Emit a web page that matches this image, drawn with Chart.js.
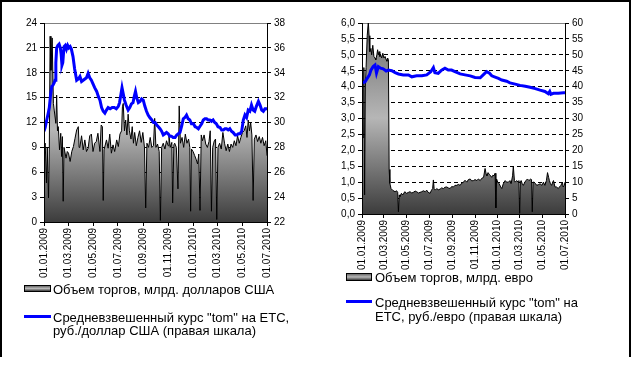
<!DOCTYPE html>
<html><head><meta charset="utf-8">
<script src="https://cdn.jsdelivr.net/npm/chart.js@4.4.1/dist/chart.umd.min.js"></script>
<style>
html,body{margin:0;padding:0;background:#fff;}
body{width:631px;height:372px;position:relative;overflow:hidden;font-family:'Liberation Sans',Arial,sans-serif;}
#frame{position:absolute;left:0;top:0;width:627px;height:355px;border:2px solid #000;border-bottom:none;}
canvas{position:absolute;}
.lg{position:absolute;font-size:13px;line-height:13px;color:#000;white-space:nowrap;}
.box{position:absolute;border:1px solid #000;background:linear-gradient(#6a6a6a,#b8b8b8 50%,#3c3c3c);}
.ln{position:absolute;height:3px;background:#0000ff;}
</style></head><body>
<div id="frame"></div>
<canvas id="c1" width="310" height="300" style="left:0;top:0"></canvas>
<canvas id="c2" width="310" height="300" style="left:310px;top:0"></canvas>

<div class="box" style="left:24px;top:285px;width:25px;height:5px"></div>
<div class="lg" style="left:53px;top:283px">Объем торгов, млрд. долларов США</div>
<div class="ln" style="left:24px;top:315px;width:27px"></div>
<div class="lg" style="left:53px;top:311px">Средневзвешенный курс "tom" на ETC,<br>руб./доллар США (правая шкала)</div>

<div class="box" style="left:346px;top:273px;width:24px;height:6px"></div>
<div class="lg" style="left:375px;top:271px">Объем торгов, млрд. евро</div>
<div class="ln" style="left:346px;top:300px;width:26px"></div>
<div class="lg" style="left:375px;top:296px;line-height:14px">Средневзвешенный курс "tom" на<br>ETC, руб./евро (правая шкала)</div>

<script>
// Tick labels (month starts) for both charts
const tickLabels = ['01.01.2009','01.03.2009','01.05.2009','01.07.2009','01.09.2009','01.11.2009','01.01.2010','01.03.2010','01.05.2010','01.07.2010'];

// USD: days since 01.01.2009 and daily volume, bn USD
const usdVolDay = [
 0,3,6,8,11,13,15,17,19,20,
 23,25,29,31,33,35,38,41,43,45,
 47,49,54,57,60,64,68,72,76,80,
 84,86,88,92,96,100,104,108,112,116,
 120,124,128,132,137,140,143,145,147,153,
 157,161,165,169,173,178,182,186,190,192,
 194,197,200,203,206,209,213,216,219,222,
 226,230,234,238,242,246,249,252,256,260,
 264,268,271,274,278,282,285,288,292,296,
 300,304,306,309,313,315,318,320,324,328,
 331,334,338,342,346,350,354,357,359,361,
 365,369,373,376,379,382,385,388,392,396,
 400,404,407,410,413,417,420,423,426,430,
 434,438,442,446,450,454,458,462,466,470,
 474,478,482,486,490,494,497,500,503,506,
 509,512,515,519,523,527,531,535,539,543,
 546];
const usdVol = [
 9.0,9.5,4.7,9.0,2.9,8.7,22.4,18.3,21.0,22.2,
 14.3,13.5,11.9,15.3,11.0,11.5,8.7,10.7,7.9,10.3,
 2.5,9.0,7.7,8.5,8.3,7.3,8.5,9.1,10.1,11.1,
 11.5,9.0,9.1,10.4,8.7,9.9,8.5,8.9,10.4,10.6,
 8.5,9.5,9.7,10.7,8.5,11.7,11.5,2.6,8.7,9.9,
 8.9,10.6,8.3,9.3,8.5,9.9,9.1,10.6,11.0,13.9,
 14.3,11.0,12.3,10.5,13.0,11.0,10.0,11.5,9.5,10.8,
 9.2,10.2,11.0,9.6,10.8,9.0,1.7,9.5,9.0,10.2,
 9.0,9.2,12.5,9.0,9.4,8.5,0.2,9.0,9.5,8.8,
 9.8,9.2,10.5,9.0,9.6,2.3,9.3,9.5,9.0,4.0,
 14.0,9.5,10.2,9.0,10.6,9.5,10.0,9.0,1.3,8.8,
 8.5,8.0,7.5,7.0,8.2,1.4,10.5,9.8,10.5,9.4,
 9.0,9.7,11.0,1.3,9.0,9.8,10.0,0.3,9.0,9.5,
 8.8,10.8,9.5,8.6,9.4,8.5,9.4,9.0,9.8,9.2,
 10.4,9.5,10.2,10.8,11.0,11.6,10.2,12.3,11.0,12.0,
 10.5,2.6,10.0,10.5,9.7,10.3,9.5,10.2,9.2,9.8,
 8.0];

// USD: weighted average "tom" rate, RUB per USD
const usdRateDay = [
 0,3,6,10,13,16,19,22,25,27,
 29,31,34,37,40,42,44,46,49,52,
 55,58,61,64,67,71,75,80,84,88,
 92,96,100,104,108,112,116,120,124,129,
 133,137,141,145,149,153,157,162,167,172,
 177,182,185,188,191,194,197,201,206,210,
 214,218,221,224,227,231,235,239,243,247,
 251,255,259,264,268,272,276,280,284,288,
 292,296,300,304,308,312,316,321,325,329,
 333,337,341,345,349,353,357,361,366,370,
 374,378,382,386,390,394,398,402,406,410,
 414,418,422,426,431,435,439,443,447,451,
 455,459,463,468,472,476,480,484,488,492,
 496,500,504,508,512,516,520,525,529,533,
 537,541,546];
const usdRate = [
 29.3,29.6,30.1,30.7,31.2,32.2,32.9,33.0,33.2,33.4,
 34.8,36.0,36.2,36.3,36.0,35.5,34.6,34.8,36.1,36.2,
 35.9,36.2,36.0,36.1,35.9,35.3,34.3,33.4,33.5,33.7,
 33.3,33.4,33.5,33.6,33.95,33.6,33.4,33.1,32.8,32.5,
 32.1,31.8,31.2,30.9,30.75,31.0,31.2,31.1,31.2,31.2,
 31.1,31.3,31.6,32.2,32.8,32.3,31.8,31.4,31.0,31.2,
 31.5,31.6,32.1,32.5,32.0,31.6,31.7,31.9,31.8,31.3,
 30.9,30.6,30.4,30.2,30.0,30.0,29.8,29.66,29.5,29.3,
 29.0,29.1,29.2,29.1,28.9,28.9,28.8,28.8,29.0,29.1,
 29.2,29.7,30.3,30.4,30.6,30.3,30.2,29.9,29.9,29.66,
 29.6,29.5,29.7,29.9,30.2,30.3,30.3,30.2,30.2,30.1,
 30.2,30.0,29.9,29.66,29.6,29.4,29.4,29.5,29.5,29.4,
 29.5,29.3,29.2,29.0,29.0,29.1,29.1,29.3,30.2,30.6,
 30.4,31.0,30.9,31.4,31.0,30.9,31.3,31.7,31.4,31.0,
 30.9,31.1,31.1];

// EUR: days since 01.01.2009 and daily volume, bn EUR
const eurVolDay = [
 0,3,5,7,9,11,14,17,19,21,
 24,26,29,32,35,37,40,42,44,46,
 48,50,53,56,59,62,65,67,69,71,
 73,75,78,82,86,89,93,96,98,100,
 102,106,110,115,120,125,129,134,138,143,
 147,152,156,161,165,170,174,178,183,187,
 190,192,194,197,201,205,210,214,219,223,
 228,232,237,241,246,250,255,259,264,268,
 273,277,282,286,291,295,300,304,309,313,
 318,322,327,331,334,336,339,342,346,349,
 352,355,358,360,362,365,369,373,376,380,
 385,389,394,398,401,405,407,410,412,416,
 420,422,424,426,428,431,434,438,441,445,
 449,454,456,458,460,463,467,470,474,479,
 484,488,492,496,499,502,504,507,510,513,
 515,519,523,528,531,535,539,541,544,546];
const eurVol = [
 3.6,2.4,4.6,0.6,4.0,4.6,5.6,6.04,5.6,5.1,
 5.2,5.0,5.3,4.95,4.9,4.84,5.0,5.16,5.0,5.1,
 4.95,5.0,4.9,5.05,4.9,4.95,4.85,4.8,4.9,4.85,
 1.4,0.96,0.8,0.75,0.72,0.7,0.73,0.68,0.07,0.6,
 0.55,0.65,0.6,0.7,0.65,0.68,0.7,0.66,0.68,0.72,
 0.7,0.66,0.68,0.7,0.73,0.7,0.75,0.68,0.65,0.75,
 0.8,1.07,0.8,0.75,0.8,0.76,0.78,0.82,0.8,0.84,
 0.85,0.82,0.8,0.86,0.85,0.9,0.9,0.93,0.9,0.97,
 1.0,1.06,1.0,1.08,1.1,1.04,1.05,1.08,1.05,1.1,
 1.05,1.12,1.15,1.43,1.25,1.2,1.3,1.25,1.2,1.15,
 1.22,1.2,1.28,0.19,1.1,1.0,0.95,0.85,0.8,0.95,
 1.05,1.0,1.0,1.05,0.95,1.2,1.5,1.05,1.0,1.05,
 1.0,1.05,0.02,1.0,1.05,0.95,0.9,1.0,1.05,1.1,
 1.05,1.1,1.08,0.07,1.0,1.0,0.95,0.9,0.92,0.95,
 0.9,1.0,0.9,1.05,1.3,1.15,1.05,0.95,0.9,1.0,
 1.05,0.85,0.85,0.8,0.85,0.9,1.0,0.85,0.9,1.0];

// EUR: weighted average "tom" rate, RUB per EUR
const eurRateDay = [
 0,8,14,20,24,30,35,39,44,50,
 57,65,71,80,89,98,111,125,134,147,
 161,174,185,192,196,205,214,223,232,241,
 250,264,277,291,304,318,326,335,343,349,
 358,367,376,389,398,412,425,439,452,466,
 479,492,501,505,508,515,528,542,546];
const eurRate = [
 41.2,41.5,42.6,43.7,45.2,46.3,46.8,44.3,46.3,45.8,
 45.6,44.9,45.2,45.0,44.4,44.0,43.7,43.7,43.1,43.4,
 43.4,43.7,44.7,46.0,44.4,44.2,45.2,45.8,45.2,45.2,
 44.7,44.0,43.7,43.4,42.9,42.8,43.7,44.7,44.2,43.4,
 43.0,42.6,42.1,41.7,41.2,40.8,40.4,40.1,39.8,39.4,
 38.9,38.5,37.8,38.5,37.6,37.9,37.9,38.1,38.1];

const legendUsd = ['Объем торгов, млрд. долларов США','Средневзвешенный курс "tom" на ETC, руб./доллар США (правая шкала)'];
const legendEur = ['Объем торгов, млрд. евро','Средневзвешенный курс "tom" на ETC, руб./евро (правая шкала)'];

function dayOf(s){const [d,m,y]=s.split('.').map(Number);return (Date.UTC(y,m-1,d)-Date.UTC(2009,0,1))/86400000;}
const tickDays = tickLabels.map(dayOf);
const pts = (xs, ys) => xs.map((x,i)=>({x:x,y:ys[i]}));
const FONT = {family:"'Liberation Sans', Arial, sans-serif", size:10};

function build(id, o){
  const maxVol = Math.max(...o.vol);
  new Chart(document.getElementById(id), {
    type:'line',
    data:{datasets:[
      {label:o.labels[1], data:pts(o.rateDay,o.rate), yAxisID:'y2', borderColor:'#0000ff', borderWidth:3,
       pointRadius:0, fill:false, tension:0, order:1},
      {label:o.labels[0], data:pts(o.volDay,o.vol), yAxisID:'y', borderColor:'#000', borderWidth:1,
       pointRadius:0, tension:0, fill:'origin', order:2,
       backgroundColor:(ctx)=>{
         const c=ctx.chart, a=c.chartArea; if(!a) return '#999';
         const top=c.scales.y.getPixelForValue(maxVol);
         const g=c.ctx.createLinearGradient(0,top,0,a.bottom);
         g.addColorStop(0,'#6a6a6a'); g.addColorStop(0.5,'#b6b6b6'); g.addColorStop(1,'#3c3c3c');
         return g;
       }}
    ]},
    options:{
      responsive:false, animation:false, devicePixelRatio:1,
      layout:{padding:{top:o.top,left:0,right:0,bottom:0}},
      plugins:{legend:{display:false}, tooltip:{enabled:false}},
      scales:{
        x:{type:'linear', position:'bottom', min:0, max:tickDays[tickDays.length-1],
           afterBuildTicks:(s)=>{s.ticks=tickDays.map(v=>({value:v}));},
           afterFit:(s)=>{s.height=o.bottomH;},
           ticks:{autoSkip:false, minRotation:90, maxRotation:90, padding:2, color:'#000', font:FONT,
                  callback:(v,i)=>tickLabels[i]},
           grid:{drawOnChartArea:false, drawTicks:true, tickLength:4, color:'#000'},
           border:{color:'#000', z:1}},
        y:{position:'left', min:0, max:o.yMax,
           afterBuildTicks:(s)=>{const t=[];for(let v=0;v<=o.yMax+1e-9;v+=o.yStep)t.push({value:+v.toFixed(4)});s.ticks=t;},
           afterFit:(s)=>{s.width=o.leftW;},
           ticks:{padding:3, color:'#000', font:FONT, callback:o.fmt},
           grid:{color:(c)=>(c.tick && Math.abs(c.tick.value-o.yMax)<1e-6)?'#808080':'#000', tickColor:'#000', tickLength:4, tickBorderDash:[]},
           border:{color:'#000', z:1, dash:(c)=>(c.tick && Math.abs(c.tick.value-o.yMax)>1e-6 && c.tick.value>1e-6)?[4,3]:[]}},
        y2:{position:'right', min:o.y2Min, max:o.y2Max,
           afterBuildTicks:(s)=>{const t=[];for(let v=o.y2Min;v<=o.y2Max+1e-9;v+=o.y2Step)t.push({value:v});s.ticks=t;},
           afterFit:(s)=>{s.width=o.rightW;},
           ticks:{padding:3, color:'#000', font:FONT},
           grid:{drawOnChartArea:false, tickLength:4, color:'#000'},
           border:{color:'#000', z:1}}
      }
    }
  });
}

build('c1', {volDay:usdVolDay, vol:usdVol, rateDay:usdRateDay, rate:usdRate, labels:legendUsd,
  yMax:24, yStep:3, y2Min:22, y2Max:38, y2Step:2, fmt:(v)=>String(v),
  top:23, leftW:44, rightW:43, bottomH:78});
build('c2', {volDay:eurVolDay, vol:eurVol, rateDay:eurRateDay, rate:eurRate, labels:legendEur,
  yMax:6, yStep:0.5, y2Min:0, y2Max:60, y2Step:5, fmt:(v)=>v.toFixed(1).replace('.',','),
  top:23, leftW:52, rightW:55, bottomH:86});
</script>
</body></html>
